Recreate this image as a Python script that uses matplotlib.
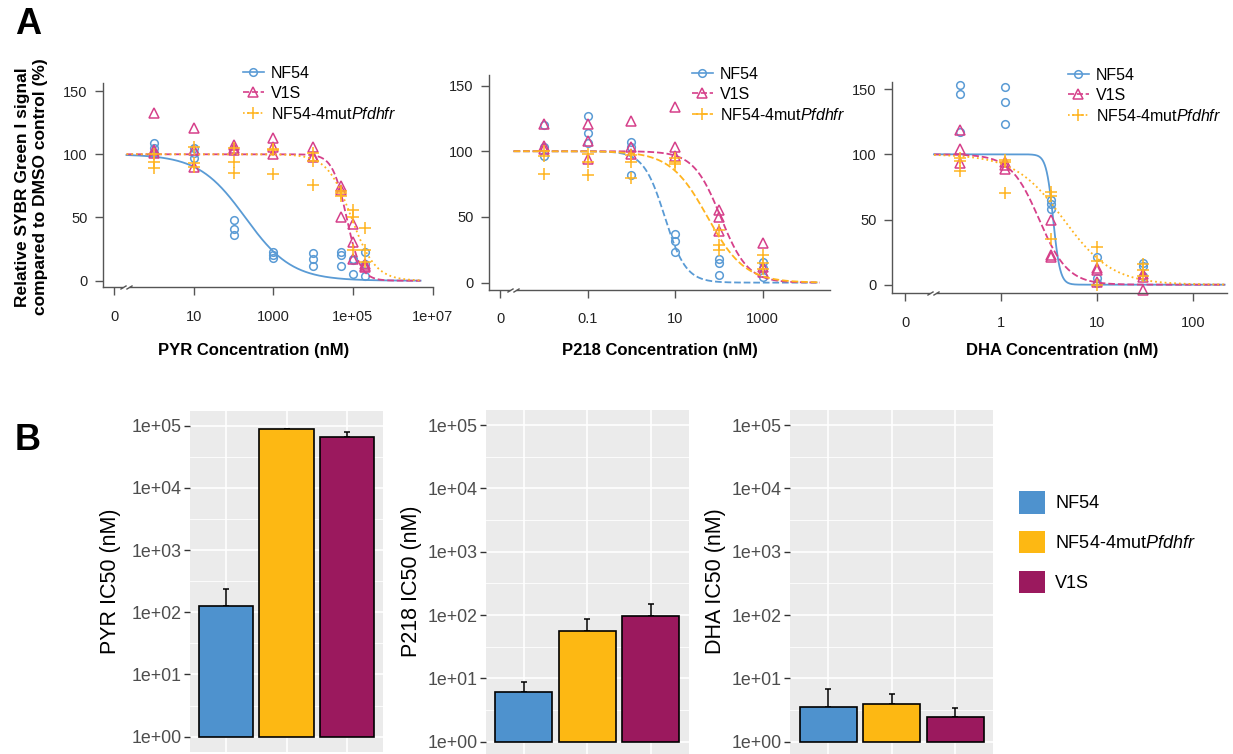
"""Dose-response curves (A) and IC50 bar charts (B)."""
import numpy as np
import matplotlib
matplotlib.use('Agg')
import matplotlib.pyplot as plt
from matplotlib.lines import Line2D
from matplotlib.patches import Patch
from matplotlib.ticker import FixedLocator, NullLocator
from matplotlib.transforms import blended_transform_factory, offset_copy

plt.rcParams['font.family'] = ['Liberation Sans', 'DejaVu Sans']
plt.rcParams['mathtext.fontset'] = 'custom'
plt.rcParams['mathtext.rm'] = 'Liberation Sans'
plt.rcParams['mathtext.it'] = 'Liberation Sans:italic'

W, H = 1233, 754

# ---- panel A data (triplicates per concentration, % of DMSO control) ----
strain_labels = ['NF54', 'V1S', 'NF54-4mut$\\mathit{Pfdhfr}$']

pyr_conc = [1, 10, 100, 1000, 1e4, 5e4, 1e5, 2e5]
pyr_nf54 = [[109, 105, 101], [105, 101, 97], [48, 41, 36], [23, 20, 18],
            [22, 17, 12], [23, 20, 12], [17, 16, 5], [23, 13, 4]]
pyr_v1s = [[133, 103, 101], [121, 103, 90], [107, 105, 103], [113, 106, 100],
           [106, 99, 98], [75, 72, 50], [45, 31, 17], [13, 12, 11]]
pyr_mut = [[100, 94, 89], [106, 93, 90], [105, 94, 85], [104, 103, 84],
           [101, 95, 76], [71, 69, 67], [56, 50, 24], [42, 24, 15]]

p218_conc = [0.01, 0.1, 1, 10, 100, 1000]
p218_nf54 = [[120, 103, 96], [127, 114, 106], [107, 103, 82], [37, 32, 23],
             [18, 15, 6], [16, 11, 4]]
p218_v1s = [[121, 104, 102], [121, 108, 94], [123, 103, 98], [134, 103, 96],
            [55, 50, 39], [30, 12, 8]]
p218_mut = [[100, 96, 83], [98, 92, 82], [97, 92, 80], [95, 92, 90],
            [40, 29, 25], [21, 15, 10]]

dha_conc = [0.37, 1.1, 3.3, 10, 30]
dha_nf54 = [[153, 146, 117], [152, 140, 123], [65, 62, 58], [21, 5, 1], [17, 14, 7]]
dha_v1s = [[119, 104, 93], [94, 92, 89], [50, 23, 21], [13, 11, 2], [8, 6, -4]]
dha_mut = [[97, 95, 87], [96, 94, 70], [71, 68, 35], [29, 18, 0], [16, 11, 7]]

# fitted log-logistic parameters (IC50 nM, Hill slope) for NF54, V1S, 4mut
pyr_fit = [(195, 0.74), (69000, 2.45), (91000, 1.43)]
p218_fit = [(5.8, 1.8), (110, 1.4), (55, 1.02)]
dha_fit = [(3.5, 12), (2.5, 2.9), (4.5, 1.7)]

# ---- panel B data ----
bar_strains = ['NF54', 'NF54-4mut$\\mathit{Pfdhfr}$', 'V1S']
pyr_ic50 = [126, 87000, 65000]
pyr_sd = [110, 0, 13000]
p218_ic50 = [6.1, 56, 98]
p218_sd = [2.7, 31, 54]
dha_ic50 = [3.5, 3.9, 2.5]
dha_sd = [3.3, 1.8, 0.9]

c_blue, c_pink, c_orange = '#5A9BD5', '#D6408A', '#FFB41F'
bar_colors = ['#4E92CE', '#FDB813', '#9B195E']


def box(l, t, r, b):
    return [l / W, 1 - b / H, (r - l) / W, (b - t) / H]


def llogistic(x, ic50, slope):
    return 100.0 / (1.0 + (x / ic50) ** slope)


fig = plt.figure(figsize=(W / 100, H / 100), dpi=100)

top = [
    (pyr_conc, [pyr_nf54, pyr_v1s, pyr_mut], pyr_fit, (0.2, 5e6),
     ['-', '--', ':'], ['-', '--', ':'], (102.7, 83.3, 432.5, 287.3),
     (0.0505, 1e7), (-5.2, 156.1), [0.1, 10, 1000, 1e5, 1e7],
     ['0', '10', '1000', '1e+05', '1e+07'], 0.195, (243, 66),
     'PYR Concentration (nM)', 254),
    (p218_conc, [p218_nf54, p218_v1s, p218_mut], p218_fit, (0.002, 2e4),
     ['--', '--', '--'], ['-', '--', '--'], (489, 75, 830, 290),
     (5.5e-4, 3.5e4), (-5.6, 158), [0.001, 0.1, 10, 1000],
     ['0', '0.1', '10', '1000'], 0.00195, (692, 67),
     'P218 Concentration (nM)', 660),
    (dha_conc, [dha_nf54, dha_v1s, dha_mut], dha_fit, (0.2, 215),
     ['-', '--', ':'], ['-', '--', ':'], (891.7, 81.7, 1226.7, 293.3),
     (0.0724, 226), (-6.6, 155.7), [0.1, 1, 10, 100],
     ['0', '1', '10', '100'], 0.195, (1068, 68),
     'DHA Concentration (nM)', 1062),
]
colors = [c_blue, c_pink, c_orange]
markers = ['o', '^', '+']
msizes = [5.5, 6.5, 8.5]

for (conc, series, fits, crange, lstyles, legstyles, bx, xlim, ylim, xt, xtl,
     brk, legpos, xlabel, xlabx) in top:
    ax = fig.add_axes(box(*bx))
    ax.set_xscale('log')
    xs = np.logspace(np.log10(crange[0]), np.log10(crange[1]), 300)
    for vals, (ic50, slope), col, mk, ms, ls in zip(series, fits, colors,
                                                   markers, msizes, lstyles):
        ax.plot(xs, llogistic(xs, ic50, slope), color=col, lw=1.3, ls=ls,
                clip_on=False)
        for cval, reps in zip(conc, vals):
            ax.plot([cval] * len(reps), reps, ls='none', marker=mk, ms=ms,
                    mfc='none', mec=col, mew=1.1, clip_on=False)
    ax.set_xlim(*xlim)
    ax.set_ylim(*ylim)
    ax.xaxis.set_major_locator(FixedLocator(xt))
    ax.xaxis.set_minor_locator(NullLocator())
    ax.set_xticklabels(xtl)
    ax.set_yticks([0, 50, 100, 150])
    for s in ['top', 'right']:
        ax.spines[s].set_visible(False)
    for s in ['left', 'bottom']:
        ax.spines[s].set_color('#555555')
        ax.spines[s].set_linewidth(1.0)
    ax.tick_params(axis='both', colors='#555555', labelcolor='#222222',
                   labelsize=10.5, length=6, width=1.0)
    ax.tick_params(axis='x', pad=10)
    ax.tick_params(axis='y', pad=5)
    # axis break mark near zero
    base = blended_transform_factory(ax.transData, ax.transAxes)
    ax.plot([brk], [0], marker=[(-1, 0), (1, 0)], ms=5, mew=2.5, color='white',
            transform=base, clip_on=False, zorder=6)
    for dx in (-3, 3):
        tr = offset_copy(base, fig=fig, x=dx, y=0, units='dots')
        ax.plot([brk], [0], marker=[(-1, -0.6), (1, 0.6)], ms=4.5, mew=1.0,
                color='#555555', transform=tr, clip_on=False, zorder=7)
    handles = [Line2D([], [], color=c, ls=ls, lw=1.2, marker=m, ms=s, mfc='none',
                      mec=c, mew=1.1)
               for c, ls, m, s in zip(colors, legstyles, markers, msizes)]
    fig.legend(handles, strain_labels, loc='upper left',
               bbox_to_anchor=(legpos[0] / W, 1 - legpos[1] / H),
               frameon=False, fontsize=11.5, handlelength=1.3,
               handletextpad=0.45, labelspacing=0.3, borderpad=0,
               borderaxespad=0)
    fig.text(xlabx / W, 1 - 350 / H, xlabel, ha='center', va='center',
             fontsize=12, fontweight='bold')

fig.text(32 / W, 1 - 187 / H,
         'Relative SYBR Green I signal\ncompared to DMSO control (%)',
         rotation=90, ha='center', va='center', fontsize=12.5,
         fontweight='bold', linespacing=1.25)

# ---- panel B ----
bottom = [
    (pyr_ic50, pyr_sd, (190, 410.7, 383, 751.6), 'PYR IC50 (nM)', 110),
    (p218_ic50, p218_sd, (485.7, 410, 688.7, 756.9), 'P218 IC50 (nM)', 412),
    (dha_ic50, dha_sd, (790, 410, 993.3, 756.9), 'DHA IC50 (nM)', 716),
]
xpos = np.arange(1, 4)
for vals, sds, bx, ylab, ylx in bottom:
    ax = fig.add_axes(box(*bx))
    ax.set_facecolor('#EBEBEB')
    ax.set_yscale('log')
    ax.set_ylim(10 ** -0.24, 10 ** 5.24)
    ax.set_xlim(0.4, 3.6)
    for k in range(-1, 6):
        ax.axhline(10 ** (k + 0.5), color='white', lw=0.6, zorder=0)
        ax.axhline(10 ** k, color='white', lw=1.2, zorder=0)
    for xp in xpos:
        ax.axvline(xp, color='white', lw=1.2, zorder=0)
    vals = np.array(vals, dtype=float)
    ax.errorbar(xpos, vals, yerr=[np.zeros(3), sds], fmt='none', ecolor='black',
                elinewidth=1.1, capsize=2.2, capthick=1.1, zorder=2)
    ax.bar(xpos, vals - 1, bottom=1, width=0.9, color=bar_colors,
           edgecolor='black', linewidth=1.2, zorder=3)
    ax.yaxis.set_major_locator(FixedLocator([10 ** k for k in range(6)]))
    ax.yaxis.set_minor_locator(NullLocator())
    ax.set_yticklabels(['1e+00', '1e+01', '1e+02', '1e+03', '1e+04', '1e+05'])
    ax.set_xticks([])
    for s in ax.spines.values():
        s.set_visible(False)
    ax.tick_params(axis='y', colors='#333333', labelcolor='#4D4D4D',
                   labelsize=12.8, length=4, width=1.0, pad=2)
    fig.text(ylx / W, 1 - 581 / H, ylab, rotation=90, ha='center',
             va='center', fontsize=15.5)

fig.legend([Patch(facecolor=c, edgecolor='none') for c in bar_colors],
           bar_strains, loc='upper left',
           bbox_to_anchor=(1019 / W, 1 - 491 / H), frameon=False, fontsize=13,
           handlelength=1.45, handleheight=1.55, handletextpad=0.55,
           labelspacing=0.95, borderpad=0, borderaxespad=0)

fig.text(15 / W, 1 - 24 / H, 'A', fontsize=26, fontweight='bold', va='center')
fig.text(15 / W, 1 - 440 / H, 'B', fontsize=26, fontweight='bold', va='center')

fig.savefig('out.png', dpi=100)
